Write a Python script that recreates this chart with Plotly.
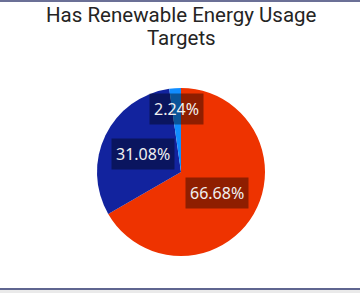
import math
import plotly.graph_objects as go

labels = ["Yes", "No", "Unknown"]
values = [66.68, 31.08, 2.24]
colors = ["#EE3300", "#12239E", "#118DFF"]
label_radius = [0.5, 0.5, 0.75]
title_lines = ["Has Renewable Energy Usage", "Targets"]

W, H = 360, 293
cx, cy, r = 181, 172, 84

fig = go.Figure(go.Pie(
    labels=labels, values=values, sort=False, direction="clockwise", rotation=0,
    marker=dict(colors=colors, line=dict(width=0)),
    textinfo="none", hoverinfo="label+percent",
    domain=dict(x=[(cx - r) / W, (cx + r) / W], y=[(H - cy - r) / H, (H - cy + r) / H]),
    showlegend=False,
))

total = sum(values)
cum = 0
anns = []
for v, f in zip(values, label_radius):
    mid = (cum + v / 2) / total * 2 * math.pi
    cum += v
    px = cx + math.sin(mid) * f * r
    py = cy - math.cos(mid) * f * r
    anns.append(dict(
        x=px / W, y=1 - py / H, xref="paper", yref="paper",
        text=f"{v:.2f}%", showarrow=False,
        font=dict(family="Noto Sans", size=16, color="#F0F0F0"),
        bgcolor="rgba(0,0,0,0.40)", borderpad=4,
        xanchor="center", yanchor="middle",
    ))

for i, line in enumerate(title_lines):
    anns.append(dict(
        x=181 / W, y=1 - (1 + 23 * i) / H, xref="paper", yref="paper", text=line,
        showarrow=False, xanchor="center", yanchor="top", align="center",
        font=dict(family="Roboto", size=20.5, color="#252423"),
    ))

fig.update_layout(
    width=W, height=H, margin=dict(l=0, r=0, t=0, b=0),
    paper_bgcolor="white", plot_bgcolor="white",
    annotations=anns,
    shapes=[
        dict(type="rect", xref="paper", yref="paper", x0=0, x1=1, y0=1 - 2 / H, y1=1,
             fillcolor="#6B7096", line=dict(width=0), layer="below"),
        dict(type="rect", xref="paper", yref="paper", x0=0, x1=1, y0=0, y1=1 - 288 / H,
             fillcolor="#EAEAEA", line=dict(width=0), layer="below"),
        dict(type="rect", xref="paper", yref="paper", x0=0, x1=1, y0=1 - 290 / H, y1=1 - 288 / H,
             fillcolor="#5F6590", line=dict(width=0), layer="below"),
    ],
)

fig.write_html("out.html", config={"displayModeBar": False},
               post_script="document.body.style.margin='0';document.body.style.overflow='hidden';")
